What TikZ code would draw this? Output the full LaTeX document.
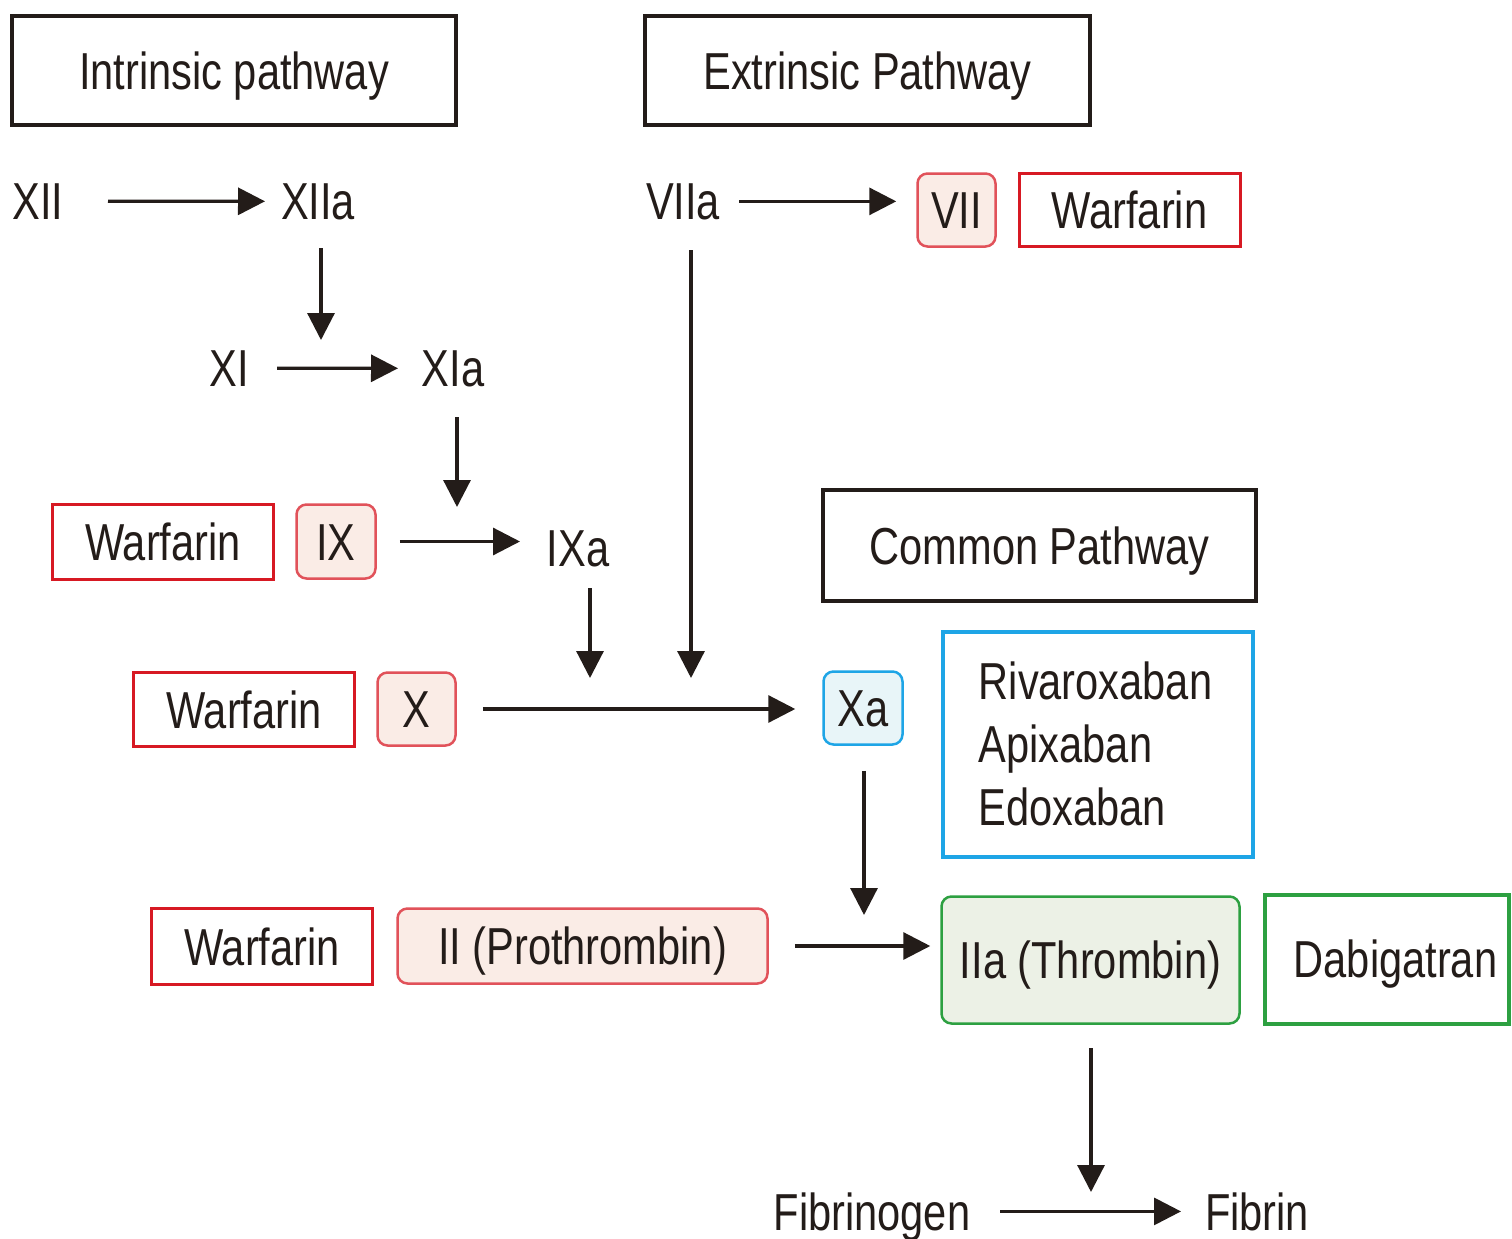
\documentclass[tikz,border=0pt]{standalone}
\usepackage{fontspec}
\setmainfont{Liberation Sans}[FakeStretch=0.8]
\usetikzlibrary{arrows.meta}
\definecolor{ink}{RGB}{35,28,25}
\definecolor{wred}{RGB}{215,25,35}
\definecolor{pinkfill}{RGB}{250,236,230}
\definecolor{bluec}{RGB}{30,165,230}
\definecolor{bluefill}{RGB}{232,245,248}
\definecolor{greenc}{RGB}{45,160,65}
\definecolor{greenfill}{RGB}{236,241,230}
\begin{document}
\begin{tikzpicture}[x=1pt,y=-1pt,
  every node/.style={font=\fontsize{52}{63}\selectfont, text=ink, inner sep=0pt},
  boxbase/.style={text height=37pt, text depth=0pt},
  hdr/.style={boxbase, draw=ink, line width=3.5pt},
  warf/.style={boxbase, draw=wred, line width=3pt, minimum width=221pt, minimum height=75pt},
  factor/.style={boxbase, draw=wred!75, line width=2.5pt, fill=pinkfill, rounded corners=10pt, minimum height=74pt},
  lbl/.style={anchor=base},
  arr/.style={draw=ink, line width=3.2pt, -{Triangle[length=27pt,width=27pt]}}
]
\useasboundingbox (0,0) rectangle (1512,1239);
\fill[white] (0,0) rectangle (1512,1239);

% headers
\node[hdr, minimum width=444pt, minimum height=109pt] (intr) at (234,70.5) {Intrinsic pathway};
\node[hdr, minimum width=445pt, minimum height=109pt] (extr) at (867.5,70.5) {Extrinsic Pathway};
\node[hdr, minimum width=433pt, minimum height=111pt] (comm) at (1039.5,545.5) {Common Pathway};

% plain labels
\node[lbl] (XII) at (38,219) {XII};
\node[lbl] (XIIa) at (318,219) {XIIa};
\node[lbl] (XI) at (229,386) {XI};
\node[lbl] (XIa) at (453,386) {XIa};
\node[lbl] (IXa) at (578,566) {IXa};
\node[lbl] (VIIa) at (683,219) {VIIa};
\node[lbl] (fbg) at (872,1230) {Fibrinogen};
\node[lbl] (fbn) at (1257,1230) {Fibrin};

% factor boxes
\node[factor, minimum width=78pt, minimum height=73pt] (VII) at (956.5,210) {VII};
\node[warf, minimum height=73pt] (w1) at (1129.5,210) {Warfarin};
\node[factor, minimum width=79pt] (IX) at (336,541.5) {IX};
\node[warf] (w2) at (163,542) {Warfarin};
\node[factor, minimum width=78pt, minimum height=73pt] (X) at (416.5,709) {X};
\node[warf, minimum height=74pt] (w3) at (244,709.5) {Warfarin};
\node[factor, minimum width=370pt, minimum height=75pt] (II) at (582.5,946) {II (Prothrombin)};
\node[warf, minimum height=76pt] (w4) at (262,946.5) {Warfarin};

\node[boxbase, draw=bluec, line width=2.5pt, fill=bluefill, rounded corners=10pt, minimum width=79pt, minimum height=73pt] (Xa) at (863,708) {Xa};
\node[draw=bluec, line width=4pt, minimum width=310pt, minimum height=225pt, align=left] (xai) at (1097.5,744)
  {\hspace*{-4pt}Rivaroxaban\\\hspace*{-4pt}Apixaban\\\hspace*{-4pt}Edoxaban};
\node[boxbase, draw=greenc, line width=2.5pt, fill=greenfill, rounded corners=10pt, minimum width=298pt, minimum height=127pt] (IIa) at (1090.5,960) {IIa (Thrombin)};
\node[boxbase, draw=greenc, line width=4pt, minimum width=244pt, minimum height=129pt, text width=244pt, align=center] (dab) at (1386.5,959) {\hspace*{18pt}Dabigatran};

% junction coordinates
\coordinate (j1s) at (321,248);
\coordinate (j1e) at (321,340);
\coordinate (j2s) at (457,417);
\coordinate (j2e) at (457,507);
\coordinate (j3s) at (590,588);
\coordinate (j3e) at (590,678);
\coordinate (j4s) at (691,250);
\coordinate (j4e) at (691,678);
\coordinate (j5e) at (864,915);
\coordinate (j6s) at (1091,1048);
\coordinate (j6e) at (1091,1192);

% connectors
\draw[arr, shorten <=70pt, shorten >=53pt] (XII.center) -- (XIIa.center);
\draw[arr] (j1s) -- (j1e);
\draw[arr, shorten <=48pt, shorten >=55pt] (XI.center) -- (XIa.center);
\draw[arr] (j2s) -- (j2e);
\draw[arr, shorten <=23pt, shorten >=58pt] (IX.east) -- (IX.east -| IXa.center);
\draw[arr] (j3s) -- (j3e);
\draw[arr, shorten <=56pt, shorten >=20pt] (VIIa.center) -- (VIIa.center -| VII.west);
\draw[arr] (j4s) -- (j4e);
\draw[arr, shorten <=26pt, shorten >=27pt] (X.east) -- (X.east -| Xa.west);
\draw[arr, shorten <=25pt] (Xa.south -| j5e) -- (j5e);
\draw[arr, shorten <=26pt, shorten >=10pt] (II.east) -- (II.east -| IIa.west);
\draw[arr] (j6s) -- (j6e);
\draw[arr, shorten <=128pt, shorten >=76pt] (fbg.center |- fbn.center) -- (fbn.center);
\end{tikzpicture}
\end{document}
